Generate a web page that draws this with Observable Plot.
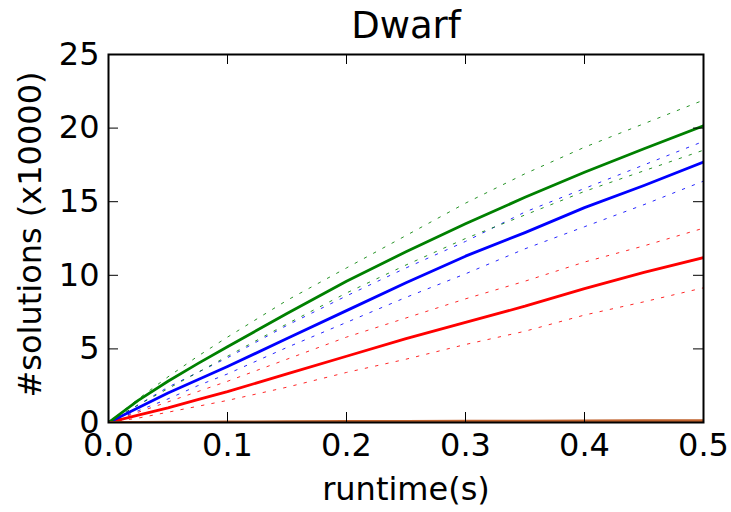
<!DOCTYPE html>
<html><head><meta charset="utf-8">
<script src="https://cdn.jsdelivr.net/npm/d3@7"></script>
<script src="https://cdn.jsdelivr.net/npm/@observablehq/plot@0.6"></script>
<style>body{margin:0;background:#fff;}</style>
</head><body><div id="chart"></div>
<script>
// runtime (s)
const times = [0, 0.025, 0.05, 0.075, 0.1, 0.15, 0.2, 0.25, 0.3, 0.35, 0.4, 0.45, 0.5];
// #solutions (x10000)
const greenMean  = [0, 1.5, 2.8, 4.0, 5.15, 7.4, 9.6, 11.6, 13.5, 15.3, 17.0, 18.6, 20.15];
const greenUpper = [0, 1.6, 3.1, 4.5, 5.8, 8.3, 10.5, 12.7, 14.9, 16.9, 18.7, 20.3, 21.9];
const greenLower = [0, 1.2, 2.3, 3.4, 4.5, 6.7, 8.8, 10.7, 12.5, 14.1, 15.7, 17.1, 18.5];
const blueMean   = [0, 1.0, 2.0, 2.9, 3.8, 5.7, 7.6, 9.5, 11.3, 12.9, 14.6, 16.1, 17.7];
const blueUpper  = [0, 1.2, 2.4, 3.4, 4.4, 6.6, 8.6, 10.5, 12.3, 14.3, 15.9, 17.5, 19.1];
const blueLower  = [0, 0.8, 1.6, 2.5, 3.3, 5.1, 6.8, 8.5, 10.1, 11.8, 13.3, 14.8, 16.4];
const redMean    = [0, 0.5, 1.0, 1.55, 2.1, 3.3, 4.5, 5.7, 6.8, 7.9, 9.1, 10.2, 11.2];
const redUpper   = [0, 0.7, 1.4, 2.1, 2.8, 4.3, 5.8, 7.1, 8.4, 9.6, 10.9, 12.0, 13.2];
const redLower   = [0, 0.3, 0.7, 1.1, 1.5, 2.4, 3.4, 4.3, 5.3, 6.2, 7.3, 8.2, 9.15];
const brownMean  = [0, 0.01, 0.02, 0.03, 0.04, 0.05, 0.07, 0.08, 0.09, 0.1, 0.11, 0.12, 0.13];
const xTicks = [0, 0.1, 0.2, 0.3, 0.4, 0.5];
const yTicks = [0, 5, 10, 15, 20, 25];
const titleText = "Dwarf";
const xLabel = "runtime(s)";
const yLabel = "#solutions (x10000)";

const rows = vals => times.map((t, i) => ({t, v: vals[i]}));

const W = 731, H = 512, mT = 54, mB = 90, mL = 108, mR = 28;
const frameW = W - mL - mR, frameH = H - mT - mB;
const font = "DejaVu Sans";

const dotted = (vals, color) => Plot.line(rows(vals), {x: "t", y: "v", stroke: color, strokeWidth: 1, strokeDasharray: "2.5,8", strokeOpacity: 0.85, clip: true});
const solid = (vals, color) => Plot.line(rows(vals), {x: "t", y: "v", stroke: color, strokeWidth: 2.8, clip: true});

const chart = Plot.plot({
  width: W, height: H,
  marginTop: mT, marginBottom: mB, marginLeft: mL, marginRight: mR,
  style: {fontFamily: font, color: "black", background: "white"},
  x: {domain: [0, 0.5]},
  y: {domain: [0, 25]},
  marks: [
    dotted(redUpper, "#ff0000"), dotted(redLower, "#ff0000"),
    dotted(blueUpper, "#0000ff"), dotted(blueLower, "#0000ff"),
    dotted(greenUpper, "#008000"), dotted(greenLower, "#008000"),
    solid(redMean, "#ff0000"),
    solid(blueMean, "#0000ff"),
    solid(greenMean, "#008000"),
    solid(brownMean, "#c0622d"),
    Plot.tickX(xTicks, {x: d => d, insetTop: frameH - 10, stroke: "black", strokeWidth: 1}),
    Plot.tickX(xTicks, {x: d => d, insetBottom: frameH - 10, stroke: "black", strokeWidth: 1}),
    Plot.tickY(yTicks, {y: d => d, insetRight: frameW - 10, stroke: "black", strokeWidth: 1}),
    Plot.tickY(yTicks, {y: d => d, insetLeft: frameW - 10, stroke: "black", strokeWidth: 1}),
    Plot.frame({stroke: "black", strokeWidth: 2}),
    Plot.axisX({ticks: xTicks, tickSize: 0, tickPadding: 11, tickFormat: d => d.toFixed(1), fontSize: 32, label: null}),
    Plot.axisY({ticks: yTicks, tickSize: 0, tickPadding: 9, tickFormat: d => String(d), fontSize: 32, label: null}),
    Plot.text([titleText], {text: d => d, frameAnchor: "top", dy: -28, lineAnchor: "middle", textAnchor: "middle", fontSize: 37, fill: "black"}),
    Plot.text([xLabel], {text: d => d, frameAnchor: "bottom", dy: 67, lineAnchor: "middle", textAnchor: "middle", fontSize: 32, fill: "black"}),
    Plot.text([yLabel], {text: d => d, frameAnchor: "left", dx: -78, dy: -4, rotate: -90, lineAnchor: "middle", textAnchor: "middle", fontSize: 32, fill: "black"})
  ]
});
document.getElementById("chart").appendChild(chart);
</script>
</body></html>
